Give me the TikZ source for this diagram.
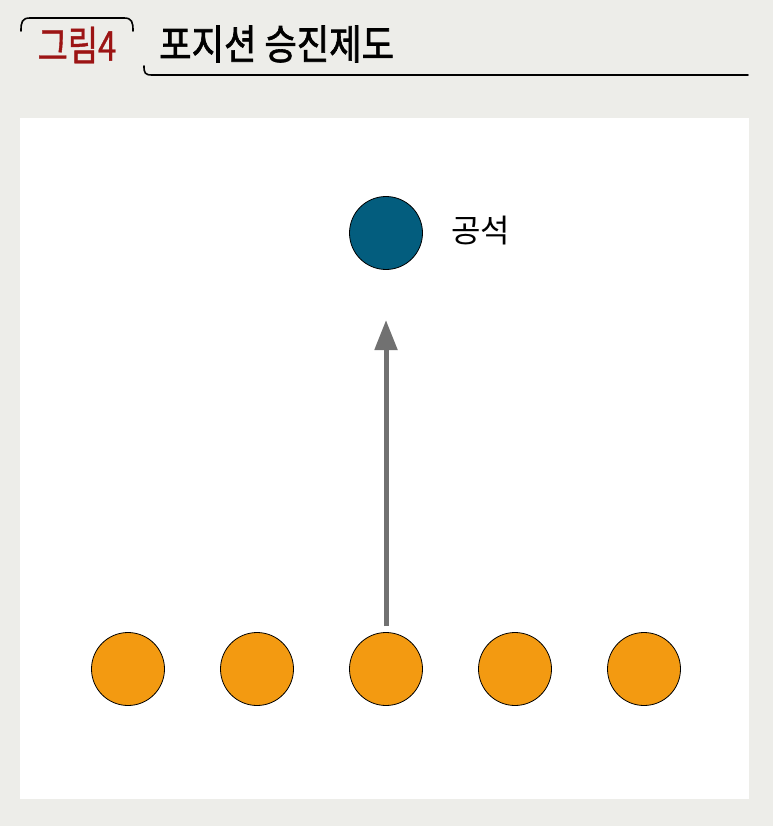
\documentclass[tikz,border=0pt]{standalone}
\usepackage{fontspec}
\newfontfamily\cjk{Noto Sans CJK KR}
\newfontfamily\cjkn[FakeStretch=0.8, FakeBold=1]{Noto Sans CJK KR}
\newfontfamily\cjkt[FakeStretch=0.86, FakeBold=1.6]{Noto Sans CJK KR}
\usetikzlibrary{arrows.meta}
\definecolor{bg}{HTML}{EDEDE9}
\definecolor{figred}{HTML}{9C1414}
\definecolor{vacant}{HTML}{035D7E}
\definecolor{staff}{HTML}{F39A11}
\definecolor{arrowgray}{HTML}{717171}
\tikzset{
  person/.style={circle, draw=black, line width=0.8pt, minimum size=73pt, inner sep=0pt},
  promo/.style={draw=arrowgray, line width=5pt, -{Triangle[length=30pt,width=22pt]}},
}
\begin{document}
\begin{tikzpicture}[x=1pt,y=-1pt]
\fill[bg] (0,0) rectangle (773,826);
\useasboundingbox (0,0) rectangle (773,826);
\fill[white] (20,118) rectangle (749,799);
% header bracket
\draw[line width=1.6pt, line cap=round] (21,31) .. controls (21,22) and (22,18) .. (30,18) -- (124,18) .. controls (132,18) and (133,22) .. (133,31);
\node[text=figred, font=\cjkn\fontsize{41}{41}\selectfont, anchor=center, inner sep=0pt] (fig) at (77,45) {그림4};
\node[text=black, font=\cjkt\fontsize{41}{41}\selectfont, anchor=west, inner sep=0pt] (title) at (159,44) {포지션 승진제도};
\draw[line width=1.6pt, line cap=round] (144,66) .. controls (144,73) and (145,75) .. (152,75) -- (748,75);
% vacancy
\node[person, fill=vacant] (top) at (386,233) {};
\node[font=\cjk\fontsize{32}{32}\selectfont, anchor=west, inner sep=0pt] (lab) at (451,231) {공석};
% staff
\foreach \i/\x in {1/128,2/257,3/386,4/515,5/644}{
  \node[person, fill=staff] (s\i) at (\x,669) {};
}
\coordinate (tip) at (386,320);
\draw[promo] ([yshift=6pt]s3.north) -- (tip);
\end{tikzpicture}
\end{document}
